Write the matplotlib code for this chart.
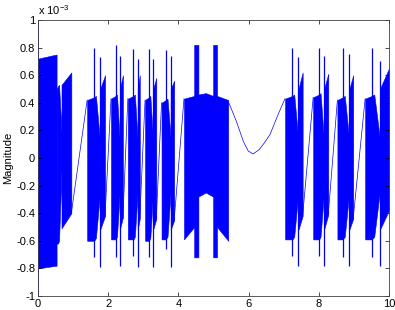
import numpy as np
import matplotlib
matplotlib.use('Agg')
import matplotlib.pyplot as plt

plt.rcParams['font.family'] = ['Liberation Sans', 'DejaVu Sans']
plt.rcParams['mathtext.default'] = 'regular'

# magnitudes are in units of 1e-3, time in s
# opening burst
intro_x = [0.0, 0.53]
intro_top = [0.72, 0.75]
intro_bot = [-0.80, -0.78]
start_spike = [-0.97, 1.0]

# repeated note bursts: attack, first spike, notch, second spike, release end
note_start  = [0.53, 1.40, 2.08, 2.56, 3.05, 3.52, 7.04, 7.84, 8.53, 9.32]
note_spike1 = [0.57, 1.60, 2.21, 2.72, 3.16, 3.64, 7.25, 8.01, 8.68, 9.51]
note_notch  = [0.60, 1.65, 2.25, 2.76, 3.20, 3.69, 7.30, 8.05, 8.74, 9.58]
note_spike2 = [0.67, 1.77, 2.33, 2.84, 3.28, 3.78, 7.42, 8.15, 8.87, 9.74]
note_end    = [0.95, 1.91, 2.42, 2.90, 3.37, 3.88, 7.54, 8.27, 8.98, 10.0]
attack_top  = [0.50, 0.42, 0.43, 0.43, 0.42, 0.40, 0.43, 0.44, 0.42, 0.43]
attack_bot  = [-0.62, -0.60, -0.59, -0.59, -0.60, -0.59, -0.59, -0.59, -0.59, -0.59]
notch_top   = [0.19, 0.11, 0.12, 0.12, 0.12, 0.14, 0.12, 0.12, 0.12, 0.14]
notch_bot   = [-0.09, -0.24, -0.24, -0.24, -0.24, -0.24, -0.24, -0.24, -0.24, -0.24]
decay_top   = [0.53, 0.50, 0.50, 0.50, 0.50, 0.50, 0.50, 0.50, 0.50, 0.50]
decay_bot   = [-0.51, -0.52, -0.52, -0.52, -0.52, -0.52, -0.52, -0.52, -0.52, -0.52]
release_top = [0.62, 0.60, 0.60, 0.60, 0.58, 0.56, 0.62, 0.61, 0.60, 0.65]
release_bot = [-0.40, -0.42, -0.43, -0.44, -0.44, -0.45, -0.42, -0.41, -0.44, -0.38]
spike1_top  = [np.nan, 0.80, 0.82, 0.79, 0.79, 0.78, 0.80, 0.80, 0.80, 0.80]
spike1_bot  = [np.nan, -0.72, -0.72, -0.71, -0.72, -0.66, -0.71, -0.71, -0.72, -0.72]
spike2_top  = [np.nan, 0.73, 0.74, 0.72, 0.72, 0.74, 0.73, 0.74, 0.75, 0.70]
spike2_bot  = [np.nan, -0.79, -0.78, -0.79, -0.79, -0.79, -0.78, -0.78, -0.78, -0.78]

# long sustained burst in the middle
block_x   = [4.16, 4.45, 4.45, 4.57, 4.57, 4.78, 4.99, 4.99, 5.10, 5.10, 5.42]
block_top = [0.43, 0.45, 0.82, 0.82, 0.46, 0.47, 0.45, 0.82, 0.82, 0.45, 0.42]
block_bot = [-0.59, -0.50, -0.72, -0.72, -0.28, -0.25, -0.28, -0.72, -0.72, -0.50, -0.60]

# slow swing between the middle burst and the next note
curve_x = [5.42, 5.55, 5.66, 5.85, 5.99, 6.13, 6.30, 6.45, 6.61, 6.80, 6.95, 7.04]
curve_y = [0.41, 0.33, 0.26, 0.12, 0.05, 0.03, 0.06, 0.11, 0.17, 0.29, 0.38, 0.43]

blue = (0, 0, 1)

fig = plt.figure(figsize=(3.95, 3.10), dpi=100)
ax = fig.add_axes([0.0962, 0.0452, 0.8886, 0.8903])

ax.fill_between(intro_x, intro_bot, intro_top, color=blue, lw=0.4)
ax.vlines(0.0, start_spike[0], start_spike[1], color=blue, lw=0.6)

for i in range(len(note_start)):
    xs = [note_start[i], note_spike1[i], note_notch[i], note_spike2[i],
          note_spike2[i], note_end[i]]
    top = [attack_top[i], attack_top[i] + 0.02, attack_top[i] + 0.03, notch_top[i],
           decay_top[i], release_top[i]]
    bot = [attack_bot[i], attack_bot[i], attack_bot[i] + 0.02, notch_bot[i],
           decay_bot[i], release_bot[i]]
    ax.fill_between(xs, bot, top, color=blue, lw=0.4)
    ax.vlines(note_spike1[i], spike1_bot[i], spike1_top[i], color=blue, lw=0.9)
    ax.vlines(note_spike2[i], spike2_bot[i], spike2_top[i], color=blue, lw=0.9)

ax.fill_between(block_x, block_bot, block_top, color=blue, lw=0.4)

# thin connecting trace from each release to the next attack
ends = [(note_end[i], release_bot[i]) for i in range(9)]
starts = ([(note_start[i], attack_top[i]) for i in range(1, 6)]
          + [(block_x[0], block_top[0])]
          + [(note_start[i], attack_top[i]) for i in range(7, 10)])
for (x0, y0), (x1, y1) in zip(ends, starts):
    ax.plot([x0, x1], [y0, y1], color=blue, lw=0.5)
ax.plot(curve_x, curve_y, color=blue, lw=0.5)

ax.set_xlim(0, 10)
ax.set_ylim(-1, 1)
ax.set_xticks(np.arange(0, 11, 2))
yt = np.round(np.arange(-1, 1.01, 0.2), 1) + 0.0
ax.set_yticks(yt)
ax.set_yticklabels(['0' if abs(v) < 1e-9 else '%g' % v for v in yt])
ax.tick_params(direction='in', length=3, width=0.5, top=True, right=True,
               labelsize=8, pad=2, colors='black')
for s in ax.spines.values():
    s.set_linewidth(0.6)
    s.set_color('#404040')
ax.set_ylabel('Magnitude', fontsize=8, labelpad=2)
ax.text(0.0, 1.012, r'x 10$^{-3}$', transform=ax.transAxes, fontsize=8,
        ha='left', va='bottom')

fig.savefig('out.png', dpi=100)
